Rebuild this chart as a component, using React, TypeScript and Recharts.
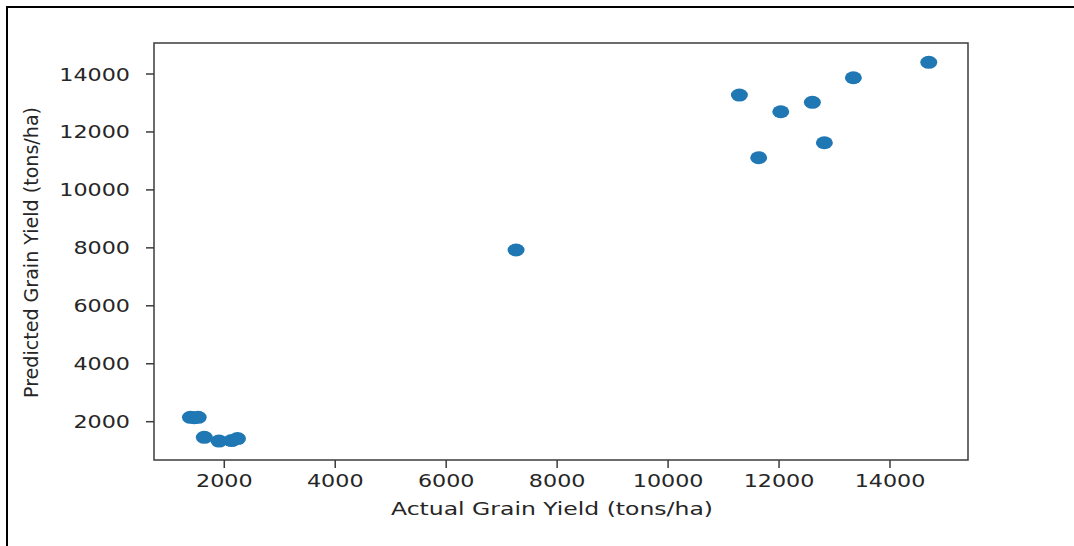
import { ScatterChart, Scatter, XAxis, YAxis, ReferenceArea } from "recharts";

// values
const actualYield = [1390, 1460, 1530, 1640, 1905, 2133, 2238, 7260, 11285, 11633, 12031, 12601, 12817, 13340, 14699];
const predictedYield = [2150, 2140, 2150, 1460, 1332, 1349, 1418, 7925, 13273, 11110, 12697, 13021, 11628, 13871, 14402];
const xTicks = [2000, 4000, 6000, 8000, 10000, 12000, 14000];
const yTicks = [2000, 4000, 6000, 8000, 10000, 12000, 14000];
const xLabel = "Actual Grain Yield (tons/ha)";
const yLabel = "Predicted Grain Yield (tons/ha)";

const X_DOMAIN: [number, number] = [733, 15406];
const Y_DOMAIN: [number, number] = [678, 15070];

const points = actualYield.map((x, i) => ({ x, y: predictedYield[i] }));

const W = 1074;
const H = 546;
const FONT = "DejaVu Sans";
const INK = "#262626";
const SPINE = "#3c3c3c";
const DOT = "#1f77b4";

function Dot({ cx, cy }: { cx?: number; cy?: number }) {
  return <ellipse cx={cx} cy={cy} rx={8.5} ry={6.5} fill={DOT} />;
}

function YTick({ x, y, payload }: any) {
  return (
    <text
      transform={`translate(${x},${y + 6.5}) scale(1.25,1)`}
      textAnchor="end"
      fontFamily={FONT}
      fontSize={17.8}
      fill={INK}
    >
      {payload.value}
    </text>
  );
}

function XTick({ x, y, payload }: any) {
  return (
    <text
      transform={`translate(${x},${y + 13}) scale(1.25,1)`}
      textAnchor="middle"
      fontFamily={FONT}
      fontSize={17.8}
      fill={INK}
    >
      {payload.value}
    </text>
  );
}

function XLabel({ viewBox }: any) {
  const cx = viewBox.x + viewBox.width / 2 - 9;
  return (
    <text
      x={cx}
      y={viewBox.y + 55}
      textAnchor="middle"
      fontFamily={FONT}
      fontSize={17.8}
      fill={INK}
      textLength={322}
      lengthAdjust="spacingAndGlyphs"
    >
      {xLabel}
    </text>
  );
}

function YLabel({ viewBox }: any) {
  const cy = viewBox.y + viewBox.height / 2 + 1;
  return (
    <text
      transform={`translate(37.5,${cy}) scale(1.1,1) rotate(-90)`}
      textAnchor="middle"
      fontFamily={FONT}
      fontSize={17.8}
      fill={INK}
      textLength={291}
      lengthAdjust="spacingAndGlyphs"
    >
      {yLabel}
    </text>
  );
}

export default function App() {
  return (
    <div style={{ position: "fixed", left: 0, top: 0, width: W, height: H, background: "#fff" }}>
      <ScatterChart
        width={W}
        height={H}
        margin={{ top: 43, right: 106, left: 54, bottom: 26 }}
      >
        <XAxis
          type="number"
          dataKey="x"
          domain={X_DOMAIN}
          allowDataOverflow
          ticks={xTicks}
          interval={0}
          height={60}
          axisLine={false}
          tickLine={{ stroke: SPINE, strokeWidth: 1.5 }}
          tickSize={8}
          tickMargin={6}
          tick={<XTick />}
          label={<XLabel />}
        />
        <YAxis
          type="number"
          dataKey="y"
          domain={Y_DOMAIN}
          allowDataOverflow
          ticks={yTicks}
          interval={0}
          width={100}
          axisLine={false}
          tickLine={{ stroke: SPINE, strokeWidth: 1.5 }}
          tickSize={8}
          tickMargin={16}
          tick={<YTick />}
          label={<YLabel />}
        />
        <ReferenceArea
          x1={X_DOMAIN[0]}
          x2={X_DOMAIN[1]}
          y1={Y_DOMAIN[0]}
          y2={Y_DOMAIN[1]}
          fill="none"
          stroke={SPINE}
          strokeWidth={1.5}
          fillOpacity={0}
        />
        <Scatter data={points} fill={DOT} shape={<Dot />} isAnimationActive={false} />
      </ScatterChart>
      {/* black frame of the screenshot: only its top and left edges fall inside */}
      <div
        style={{
          position: "fixed",
          zIndex: 10,
          pointerEvents: "none",
          left: 6,
          top: 6,
          width: 1200,
          height: 700,
          boxSizing: "border-box",
          borderTop: "2px solid #000",
          borderLeft: "2px solid #000",
        }}
      />
    </div>
  );
}
